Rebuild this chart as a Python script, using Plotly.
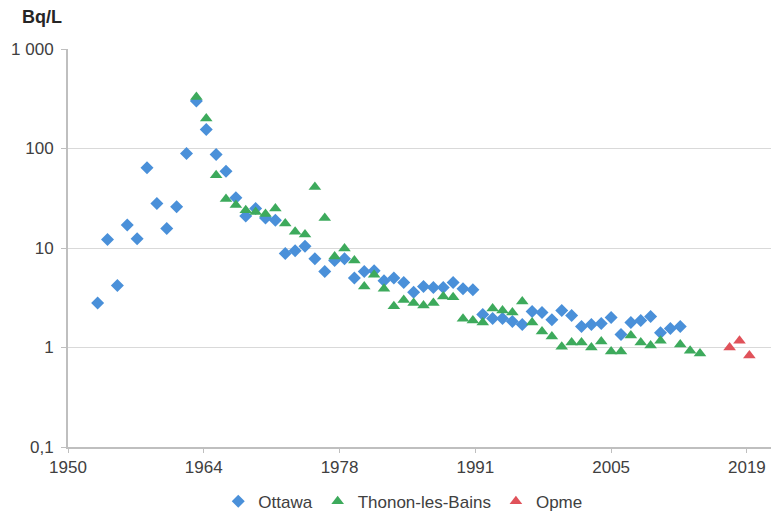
import plotly.graph_objects as go

# Bq/L per year
ottawa_years = list(range(1953, 2013))
ottawa_values = [2.8, 12.2, 4.2, 17, 12.4, 64, 28, 15.7, 26, 89,
                 300, 155, 87, 59, 32, 21, 25, 20, 19, 8.8,
                 9.4, 10.4, 7.8, 5.8, 7.5, 7.8, 5.0, 5.8, 5.9, 4.7,
                 5.0, 4.5, 3.6, 4.1, 4.0, 4.0, 4.5, 3.9, 3.8, 2.15,
                 1.96, 1.96, 1.83, 1.70, 2.3, 2.25, 1.9, 2.35, 2.1, 1.63,
                 1.7, 1.74, 2.0, 1.35, 1.78, 1.87, 2.05, 1.41, 1.55, 1.63]

thonon_years = list(range(1963, 2011)) + [2012, 2013, 2014]
thonon_values = [330, 200, 54, 31, 27, 24, 23, 22, 25, 17.6,
                 14.6, 13.7, 41, 20, 8.2, 9.9, 7.5, 4.1, 5.4, 3.9,
                 2.6, 3.0, 2.8, 2.65, 2.8, 3.25, 3.2, 1.95, 1.87, 1.78,
                 2.47, 2.35, 2.25, 2.9, 1.78, 1.45, 1.29, 1.02, 1.12, 1.12,
                 1.0, 1.15, 0.91, 0.91, 1.32, 1.12, 1.05, 1.17,
                 1.07, 0.93, 0.87]

opme_years = [2017, 2018, 2019]
opme_values = [1.0, 1.17, 0.83]

x_tickvals = [1950, 1963.75, 1977.5, 1991.25, 2005, 2018.75]
x_ticktext = ["1950", "1964", "1978", "1991", "2005", "2019"]
y_tickvals = [0.1, 1, 10, 100, 1000]
y_ticktext = ["0,1", "1", "10", "100", "1 000"]

font_family = "Liberation Sans, Arial"

fig = go.Figure()
fig.add_trace(go.Scatter(x=ottawa_years, y=ottawa_values, mode="markers",
                         name="Ottawa",
                         marker=dict(symbol="diamond", size=10, color="#4A90D9")))
fig.add_trace(go.Scatter(x=thonon_years, y=thonon_values, mode="markers",
                         name="Thonon-les-Bains",
                         marker=dict(symbol="triangle-up", size=11, color="#3DAA5C")))
fig.add_trace(go.Scatter(x=opme_years, y=opme_values, mode="markers",
                         name="Opme",
                         marker=dict(symbol="triangle-up", size=11, color="#E0525A")))

# the page keeps the browser's 8px body margin, so the figure is sized to fit
fig.update_layout(
    width=771, height=508,
    margin=dict(l=60, r=0, t=41, b=69),
    plot_bgcolor="white", paper_bgcolor="white",
    font=dict(family=font_family, size=17, color="#404040"),
    showlegend=True,
    legend=dict(orientation="h", xref="container", yref="container",
                x=0.512, xanchor="center", y=0.028, yanchor="middle",
                font=dict(size=17, color="#404040"), itemwidth=30,
                tracegroupgap=0),
    annotations=[dict(text="<b>Bq/L</b>", xref="paper", yref="paper",
                      x=-0.068, y=1.08, xanchor="left", yanchor="middle",
                      showarrow=False, font=dict(size=18, color="#262626"))],
)
fig.update_xaxes(range=[1950, 2022], tickvals=x_tickvals, ticktext=x_ticktext,
                 automargin=False,
                 showgrid=False, showline=True, linecolor="#BFBFBF", linewidth=2,
                 ticks="outside", ticklen=4, tickcolor="#BFBFBF", zeroline=False)
fig.update_yaxes(type="log", range=[-1, 3], tickvals=y_tickvals, ticktext=y_ticktext,
                 automargin=False, ticklabelstandoff=4,
                 showgrid=True, gridcolor="#D9D9D9", gridwidth=1,
                 showline=True, linecolor="#BFBFBF", linewidth=2,
                 ticks="outside", ticklen=5, tickcolor="#BFBFBF", zeroline=False)

fig.write_html("out.html")
